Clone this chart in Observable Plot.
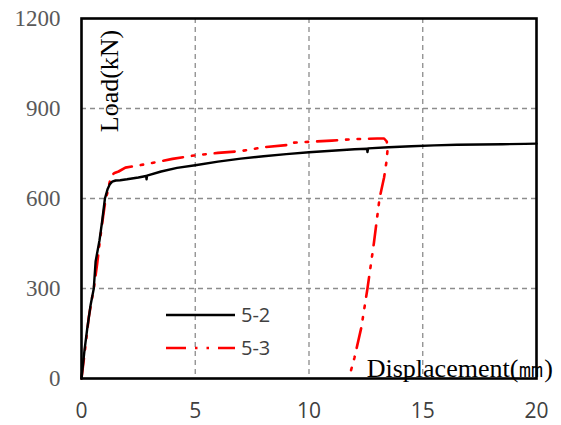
<!DOCTYPE html>
<html><head><meta charset="utf-8">
<script src="https://cdn.jsdelivr.net/npm/d3@7"></script>
<script src="https://cdn.jsdelivr.net/npm/@observablehq/plot@0.6"></script>
<style>
body{margin:0;background:#fff}
#wrap{position:relative;width:561px;height:425px}
#wrap svg{position:absolute;left:0;top:0}
</style>
</head><body><div id="wrap"></div>
<script>
// Specimen 5-2 (black solid)
const disp52 = [0, 0.13, 0.25, 0.4, 0.54, 0.62, 0.79, 0.9, 1.03, 1.15, 1.25, 1.35, 1.5, 1.7, 2.0, 2.5, 2.84, 2.86, 2.88, 3.5, 4.2, 5.0, 6.0, 7.0, 8.0, 9.0, 10.0, 11.0, 12.0, 12.55, 12.57, 12.6, 13.5, 14.5, 15.5, 16.5, 17.5, 18.5, 19.5, 20];
const load52 = [0, 93, 165, 245, 300, 390, 460, 520, 600, 632, 648, 656, 660, 661, 664, 670, 675, 664, 676, 690, 702, 711, 723, 733, 741, 748, 754, 759, 764, 766, 755, 767, 771, 774, 777, 779, 780, 781, 782, 783];
// Specimen 5-3 (red dash-dot-dot), loading then unloading
const disp53 = [0, 0.15, 0.32, 0.47, 0.55, 0.69, 0.8, 0.95, 1.05, 1.13, 1.2, 1.32, 1.45, 1.63, 1.93, 2.5, 3.0, 4.0, 5.0, 6.0, 7.0, 8.0, 9.0, 9.2, 9.25, 10.0, 11.0, 12.0, 13.0, 13.3, 13.42, 13.45, 13.4, 13.3, 13.1, 12.85, 12.57, 12.3, 12.0, 11.75];
const load53 = [0, 93, 204, 271, 305, 383, 455, 540, 593, 617, 643, 677, 685, 690, 703, 710, 717, 732, 744, 752, 758, 771, 778, 780, 786, 789, 793, 798, 800, 800, 790, 760, 720, 670, 600, 450, 300, 170, 70, 0];
const seriesNames = ["5-2", "5-3"];
const seriesColors = ["#000000", "#ff0000"];
const xTicks = [0, 5, 10, 15, 20];
const yTicks = [0, 300, 600, 900, 1200];
const xTitle = "Displacement(㎜)";
const yTitle = "Load(kN)";

const s52 = disp52.map((d, i) => ({d, L: load52[i]}));
const s53 = disp53.map((d, i) => ({d, L: load53[i]}));
const redDash = "20,9,2.5,9,2.5,9";
const serif = "'Liberation Serif', 'Times New Roman', serif";
const sans = "'Open Sans', 'Noto Sans', sans-serif";

const chart = Plot.plot({
  width: 561, height: 425,
  marginLeft: 81, marginRight: 25, marginTop: 18, marginBottom: 47,
  x: {domain: [0, 20], ticks: xTicks, label: null},
  y: {domain: [0, 1200], ticks: yTicks, label: null},
  style: {background: "#fff", overflow: "visible"},
  marks: [
    Plot.gridX(xTicks.slice(1, -1), {stroke: "#8c8c8c", strokeOpacity: 1, strokeWidth: 1.3, strokeDasharray: "5,4"}),
    Plot.gridY(yTicks.slice(1, -1), {stroke: "#8c8c8c", strokeOpacity: 1, strokeWidth: 1.3, strokeDasharray: "5,4"}),
    Plot.axisX(xTicks, {tickSize: 0, tickPadding: 25, fontSize: 21, fontFamily: sans, fill: "#404040", label: null, tickFormat: d => String(d)}),
    Plot.axisY(yTicks, {tickSize: 0, tickPadding: 21, fontSize: 23, fontFamily: serif, fill: "#595959", label: null, tickFormat: d => String(d)}),
    Plot.line(s53, {x: "d", y: "L", stroke: seriesColors[1], strokeWidth: 2.6, strokeDasharray: redDash}),
    Plot.line(s52, {x: "d", y: "L", stroke: seriesColors[0], strokeWidth: 2.4}),
    Plot.frame({stroke: "#000", strokeWidth: 2.6})
  ]
});
document.getElementById("wrap").appendChild(chart);

// overlay: axis titles and legend
const ov = d3.select("#wrap").append("svg").attr("width", 561).attr("height", 425);
ov.append("text").attr("transform", "translate(118,81) rotate(-90)")
  .attr("text-anchor", "middle").attr("font-family", serif).attr("font-size", 26)
  .attr("fill", "#000").text(yTitle);
ov.append("text").attr("x", 553).attr("y", 377)
  .attr("text-anchor", "end").attr("font-family", serif).attr("font-size", 26)
  .attr("fill", "#000").text(xTitle);
const legY = [315, 348];
seriesNames.forEach((name, i) => {
  const g = ov.append("g");
  g.append("line").attr("x1", 166).attr("x2", 235).attr("y1", legY[i]).attr("y2", legY[i])
    .attr("stroke", seriesColors[i]).attr("stroke-width", 2.6)
    .attr("stroke-dasharray", i === 1 ? redDash : null);
  g.append("text").attr("x", 241).attr("y", legY[i]).attr("dy", "0.35em")
    .attr("font-family", sans).attr("font-size", 20).attr("fill", "#404040").text(name);
});
</script>
</body></html>
